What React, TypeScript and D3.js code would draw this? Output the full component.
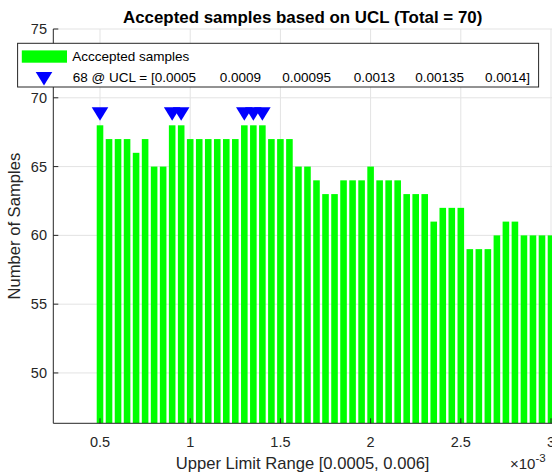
import React from 'react';
import * as d3 from 'd3';

const TITLE = 'Accepted samples based on UCL (Total = 70)';
const X_LABEL = 'Upper Limit Range [0.0005, 0.006]';
const Y_LABEL = 'Number of Samples';
const LEGEND_BAR = 'Acccepted samples';

const UCL = [
  0.0005, 0.00055, 0.0006, 0.00065, 0.0007, 0.00075, 0.0008, 0.00085, 0.0009, 0.00095,
  0.001, 0.00105, 0.0011, 0.00115, 0.0012, 0.00125, 0.0013, 0.00135, 0.0014, 0.00145,
  0.0015, 0.00155, 0.0016, 0.00165, 0.0017, 0.00175, 0.0018, 0.00185, 0.0019, 0.00195,
  0.002, 0.00205, 0.0021, 0.00215, 0.0022, 0.00225, 0.0023, 0.00235, 0.0024, 0.00245,
  0.0025, 0.00255, 0.0026, 0.00265, 0.0027, 0.00275, 0.0028, 0.00285, 0.0029, 0.00295,
  0.003,
];
const COUNTS = [
  68, 67, 67, 67, 66, 67, 65, 65, 68, 68,
  67, 67, 67, 67, 67, 67, 68, 68, 68, 67,
  67, 67, 65, 65, 64, 63, 63, 64, 64, 64,
  65, 64, 64, 64, 63, 63, 63, 61, 62, 62,
  62, 59, 59, 59, 60, 61, 61, 60, 60, 60,
  60,
];
const X_TICKS = [0.0005, 0.001, 0.0015, 0.002, 0.0025, 0.003];
const X_TICK_LABELS = ['0.5', '1', '1.5', '2', '2.5', '3'];
const Y_TICKS = [50, 55, 60, 65, 70, 75];
const X_DOMAIN = [0.0002411, 0.0030055];
const Y_DOMAIN = [46.34, 75];

const FONT = '"Liberation Sans", Arial, Helvetica, sans-serif';

export default function App() {
  const W = 552, H = 472;
  const left = 53.3, right = 552, top = 29, bottom = 423.3;
  const x = d3.scaleLinear().domain(X_DOMAIN).range([left, right]);
  const y = d3.scaleLinear().domain(Y_DOMAIN).range([bottom, top]);
  const step = x(UCL[1]) - x(UCL[0]);
  const bw = step * 0.73;

  const maxCount = d3.max(COUNTS) as number;
  const maxIdx = COUNTS.map((c, i) => (c === maxCount ? i : -1)).filter((i) => i >= 0);
  const markerY = y(maxCount + 1);
  const tri = (cx: number, cy: number) =>
    `M${cx - 8.3},${cy - 4.2}L${cx + 8.3},${cy - 4.2}L${cx},${cy + 9.2}Z`;

  const uclTokens = maxIdx.map((i) => String(UCL[i]));
  const colEnds = [196, 261, 331, 395, 464, 530];
  const tokenText = uclTokens.map((t, k) => {
    let s = t;
    if (k === 0) s = `${maxCount} @ UCL = [` + s;
    if (k === uclTokens.length - 1) s = s + ']';
    return s;
  });

  const grid = '#e3e3e3';

  return (
    <svg width={W} height={H} style={{ position: 'absolute', left: 0, top: 0, background: '#fff' }} fontFamily={FONT}>
      <defs>
        <clipPath id="plotclip">
          <rect x={left} y={top} width={right - left} height={bottom - top} />
        </clipPath>
      </defs>
      <rect x={0} y={0} width={W} height={H} fill="#fff" />
      {X_TICKS.map((t) => (
        <line key={'gx' + t} x1={x(t)} x2={x(t)} y1={top} y2={bottom} stroke={grid} strokeWidth={1} />
      ))}
      {Y_TICKS.map((t) => (
        <line key={'gy' + t} x1={left} x2={right} y1={y(t)} y2={y(t)} stroke={grid} strokeWidth={1} />
      ))}
      <g clipPath="url(#plotclip)">
        {UCL.map((u, i) => (
          <rect key={'b' + i} x={x(u) - bw / 2} y={y(COUNTS[i])} width={bw} height={bottom - y(COUNTS[i])} fill="#00ff00" />
        ))}
        {maxIdx.map((i) => (
          <path key={'m' + i} d={tri(x(UCL[i]), markerY)} fill="#0000ff" />
        ))}
      </g>
      <line x1={left} x2={left} y1={top} y2={bottom} stroke="#262626" strokeWidth={1} />
      <line x1={left} x2={right} y1={bottom} y2={bottom} stroke="#262626" strokeWidth={1} />
      {Y_TICKS.map((t) => (
        <g key={'yt' + t}>
          <line x1={left} x2={left + 5} y1={y(t)} y2={y(t)} stroke="#262626" />
          <text x={47} y={y(t)} dy="0.35em" textAnchor="end" fontSize={14.5} fill="#262626">{t}</text>
        </g>
      ))}
      {X_TICKS.map((t, i) => (
        <g key={'xt' + t}>
          <line x1={x(t)} x2={x(t)} y1={bottom} y2={bottom - 5} stroke="#262626" />
          <text x={x(t)} y={446.5} textAnchor="middle" fontSize={14.5} fill="#262626">{X_TICK_LABELS[i]}</text>
        </g>
      ))}
      <text x={510} y={469} fontSize={15} fill="#262626">
        ×10<tspan dy={-7} fontSize={11.5}>-3</tspan>
      </text>
      <text x={(left + right) / 2} y={469} textAnchor="middle" fontSize={16.6} fill="#262626">{X_LABEL}</text>
      <text transform={`translate(19.5,${(top + bottom) / 2}) rotate(-90)`} textAnchor="middle" fontSize={16.6} fill="#262626">{Y_LABEL}</text>
      <text x={(left + right) / 2} y={22.5} textAnchor="middle" fontSize={16.9} fontWeight="bold" fill="#000">{TITLE}</text>
      <rect x={17.6} y={43.3} width={521} height={43.7} fill="#fff" stroke="#262626" strokeWidth={1} />
      <rect x={21.8} y={50.4} width={45.2} height={12.3} fill="#00ff00" />
      <text x={72.2} y={61} fontSize={13.5} fill="#000">{LEGEND_BAR}</text>
      <path d={tri(44, 76.2)} fill="#0000ff" />
      {tokenText.map((s, k) => (
        <text key={'lt' + k} x={colEnds[k]} y={81.5} textAnchor="end" fontSize={13.5} fill="#000">{s}</text>
      ))}
    </svg>
  );
}
